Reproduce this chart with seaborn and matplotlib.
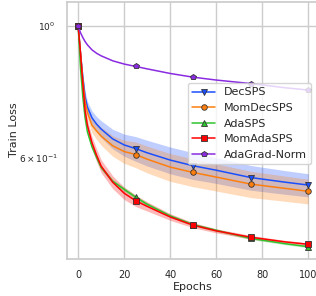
import numpy as np
import pandas as pd
import matplotlib
matplotlib.use("Agg")
import matplotlib.pyplot as plt
import seaborn as sns

# --- DATA --------------------------------------------------------------------

EPOCHS = [0, 1, 2, 3, 4, 6, 8, 10, 15, 20, 25, 30, 40, 50, 60, 75, 90, 100]
MARK_EPOCHS = [0, 25, 50, 75, 100]

DECSPS     = [1.0, 0.90, 0.82, 0.76, 0.73, 0.700, 0.683, 0.670, 0.645, 0.630,
              0.621, 0.611, 0.594, 0.581, 0.571, 0.555, 0.545, 0.539]
MOMDECSPS  = [1.0, 0.90, 0.81, 0.745, 0.715, 0.680, 0.665, 0.652, 0.628, 0.614,
              0.607, 0.596, 0.578, 0.566, 0.556, 0.541, 0.532, 0.526]
ADASPS     = [1.0, 0.85, 0.76, 0.70, 0.663, 0.625, 0.600, 0.577, 0.547, 0.530,
              0.514, 0.500, 0.478, 0.462, 0.452, 0.438, 0.429, 0.424]
MOMADASPS  = [1.0, 0.90, 0.80, 0.72, 0.68, 0.635, 0.605, 0.580, 0.545, 0.522,
              0.507, 0.496, 0.476, 0.461, 0.451, 0.440, 0.432, 0.428]
ADAGRAD    = [1.0, 0.975, 0.957, 0.942, 0.930, 0.912, 0.900, 0.891, 0.874, 0.863,
              0.855, 0.847, 0.832, 0.820, 0.811, 0.800, 0.787, 0.780]

# relative half-width of the shaded band
DECSPS_SPREAD    = [0, .010, .015, .020, .022, .027, .030, .033, .038, .043,
                    .048, .050, .052, .052, .050, .048, .046, .045]
MOMDECSPS_SPREAD = [0, .010, .016, .021, .024, .029, .032, .035, .040, .045,
                    .050, .052, .054, .054, .053, .051, .049, .048]
ADASPS_SPREAD    = [0, .004, .006, .007, .008, .008, .008, .008, .008, .008,
                    .008, .007, .006, .006, .005, .005, .004, .004]
MOMADASPS_SPREAD = [0, .010, .015, .020, .022, .024, .025, .025, .025, .024,
                    .022, .018, .013, .010, .008, .007, .006, .006]
ADAGRAD_SPREAD   = [0] * len(EPOCHS)

SERIES = [
    ("DecSPS",       DECSPS,    DECSPS_SPREAD,    "#1a4fff", "v"),
    ("MomDecSPS",    MOMDECSPS, MOMDECSPS_SPREAD, "#ff7f0e", "o"),
    ("AdaSPS",       ADASPS,    ADASPS_SPREAD,    "#2fc42f", "^"),
    ("MomAdaSPS",    MOMADASPS, MOMADASPS_SPREAD, "#ff0000", "s"),
    ("AdaGrad-Norm", ADAGRAD,   ADAGRAD_SPREAD,   "#8a2be2", "p"),
]

# --- PLOT --------------------------------------------------------------------

sns.set_theme(style="whitegrid")
fig = plt.figure(figsize=(3.16, 2.96), dpi=100)
ax = fig.add_axes([66.7 / 316, 1 - 258.5 / 296, 253 / 316, 256.8 / 296])

mark_idx = [EPOCHS.index(e) for e in MARK_EPOCHS]
x = np.array(EPOCHS, dtype=float)

for name, vals, spread, color, marker in SERIES:
    v = np.array(vals)
    s = np.array(spread)
    df = pd.DataFrame({"Epochs": x, "Train Loss": v})
    ax.fill_between(x, v * (1 - s), v * (1 + s), color=color, alpha=0.28,
                    linewidth=0)
    sns.lineplot(data=df, x="Epochs", y="Train Loss", ax=ax, color=color,
                 marker=marker, markevery=mark_idx, markersize=4,
                 markeredgecolor="#333333", markeredgewidth=0.6,
                 linewidth=1.1, label=name, sort=False)

ax.set_yscale("log")
ax.set_xlim(-5, 105)
ax.set_ylim(0.405, 1.10)
ax.set_xticks([0, 20, 40, 60, 80, 100])
ax.tick_params(axis="x", labelsize=7, pad=2)
ax.tick_params(axis="y", which="both", labelsize=6.5, pad=2)
ax.set_xlabel("Epochs", fontsize=8, labelpad=2)
ax.set_ylabel("Train Loss", fontsize=8)
ax.yaxis.set_label_coords(-0.19, 0.5)

ax.legend(loc="upper right", bbox_to_anchor=(311 / 316, 1 - 83 / 296),
          bbox_transform=fig.transFigure, borderaxespad=0, fontsize=8)

fig.savefig("out.png", dpi=100)
